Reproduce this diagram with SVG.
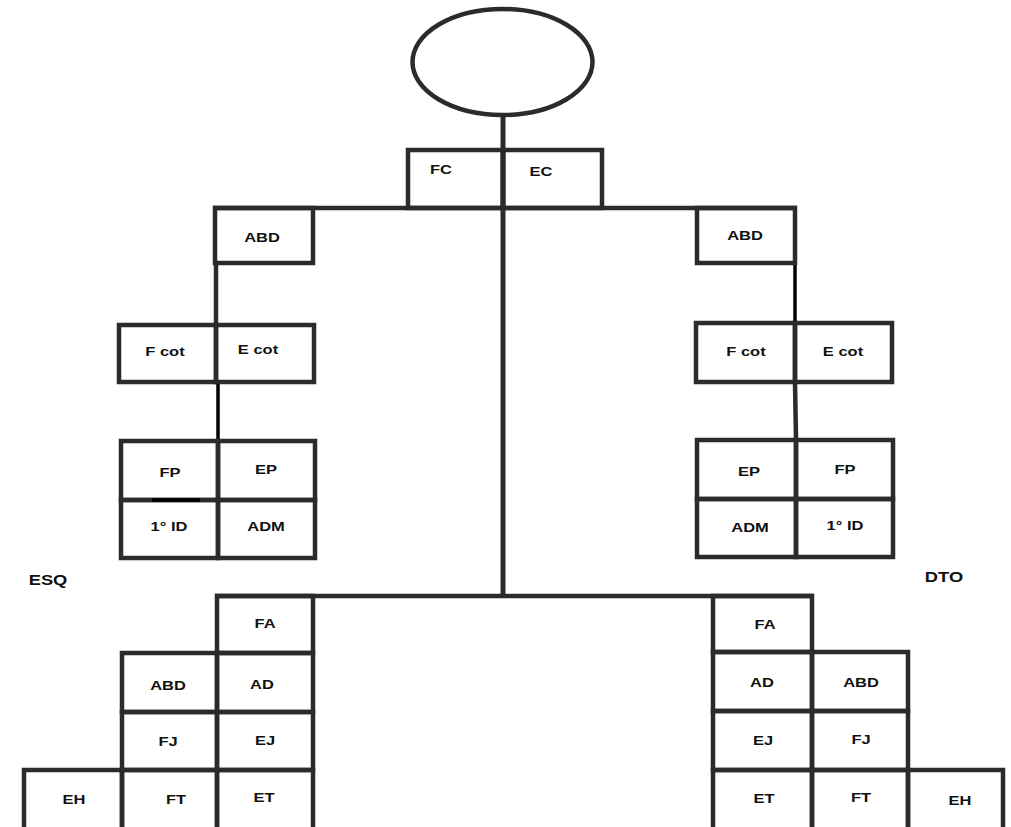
<svg xmlns="http://www.w3.org/2000/svg" width="1011" height="827" viewBox="0 0 1011 827">
<style>
.b{fill:none;stroke:#2b2b2b;stroke-width:4.5;stroke-linejoin:miter}
.c{fill:none;stroke:#2b2b2b;stroke-width:5}
.k{fill:none;stroke:#000;stroke-width:3.5}
.t{font-family:"Liberation Sans",Arial,sans-serif;font-weight:bold;font-size:13px;fill:#111;text-anchor:middle}
.s{font-size:15px}
</style>
<rect width="1011" height="827" fill="#fff"/>
<g id="connectors">
<line class="c" x1="503" y1="114" x2="503" y2="597"/>
<line class="b" x1="213" y1="208" x2="797" y2="208"/>
<line class="b" x1="216" y1="263" x2="216" y2="325"/>
<line class="k" x1="218" y1="382" x2="218" y2="441"/>
<line class="k" x1="207" y1="441" x2="229" y2="441"/>
<line class="k" x1="795" y1="263" x2="795" y2="323"/>
<line class="b" x1="795" y1="382" x2="796" y2="440"/>
<line class="b" x1="215" y1="596" x2="814" y2="596"/>
</g>
<g id="root"><ellipse cx="502.5" cy="62" rx="90" ry="53" fill="none" stroke="#2b2b2b" stroke-width="4.5"/></g>
<g id="FC"><rect class="b" x="408" y="150" width="95" height="58"/><text class="t" transform="translate(441,174) scale(1.27,1)">FC</text></g>
<g id="EC"><rect class="b" x="503" y="150" width="99" height="58"/><text class="t" transform="translate(541,176) scale(1.27,1)">EC</text></g>
<g id="ABD_L"><rect class="b" x="215" y="208" width="98" height="55"/><text class="t" transform="translate(262,242) scale(1.27,1)">ABD</text></g>
<g id="ABD_R"><rect class="b" x="697" y="208" width="98" height="55"/><text class="t" transform="translate(745,240) scale(1.27,1)">ABD</text></g>
<g id="Fcot_L"><rect class="b" x="119" y="325" width="97" height="57"/><text class="t" transform="translate(165,356) scale(1.27,1)">F cot</text></g>
<g id="Ecot_L"><rect class="b" x="216" y="325" width="98" height="57"/><text class="t" transform="translate(258,354) scale(1.27,1)">E cot</text></g>
<g id="Fcot_R"><rect class="b" x="696" y="323" width="99" height="59"/><text class="t" transform="translate(746,356) scale(1.27,1)">F cot</text></g>
<g id="Ecot_R"><rect class="b" x="795" y="323" width="97" height="59"/><text class="t" transform="translate(843,356) scale(1.27,1)">E cot</text></g>
<g id="FP_L"><rect class="b" x="121" y="441" width="97" height="59"/><text class="t" transform="translate(170,477) scale(1.27,1)">FP</text></g>
<g id="EP_L"><rect class="b" x="218" y="441" width="97" height="59"/><text class="t" transform="translate(266,474) scale(1.27,1)">EP</text></g>
<g id="ID_L"><rect class="b" x="121" y="500" width="97" height="58"/><text class="t" transform="translate(169,531) scale(1.27,1)">1° ID</text></g>
<g id="ADM_L"><rect class="b" x="218" y="500" width="97" height="58"/><text class="t" transform="translate(266,531) scale(1.27,1)">ADM</text></g>
<line class="k" x1="152" y1="500" x2="200" y2="500"/>
<g id="EP_R"><rect class="b" x="697" y="440" width="99" height="59"/><text class="t" transform="translate(749,476) scale(1.27,1)">EP</text></g>
<g id="FP_R"><rect class="b" x="796" y="440" width="97" height="59"/><text class="t" transform="translate(845,474) scale(1.27,1)">FP</text></g>
<g id="ADM_R"><rect class="b" x="697" y="499" width="99" height="58"/><text class="t" transform="translate(750,532) scale(1.27,1)">ADM</text></g>
<g id="ID_R"><rect class="b" x="796" y="499" width="97" height="58"/><text class="t" transform="translate(845,530) scale(1.27,1)">1° ID</text></g>
<text class="t s" transform="translate(48,585) scale(1.22,1)">ESQ</text>
<text class="t s" transform="translate(944,582) scale(1.22,1)">DTO</text>
<g id="FA_L"><rect class="b" x="217" y="596" width="96" height="57"/><text class="t" transform="translate(265,628) scale(1.27,1)">FA</text></g>
<g id="ABD_L2"><rect class="b" x="122" y="653" width="95" height="59"/><text class="t" transform="translate(168,690) scale(1.27,1)">ABD</text></g>
<g id="AD_L"><rect class="b" x="217" y="653" width="96" height="59"/><text class="t" transform="translate(262,689) scale(1.27,1)">AD</text></g>
<g id="FJ_L"><rect class="b" x="122" y="712" width="95" height="58"/><text class="t" transform="translate(168,746) scale(1.27,1)">FJ</text></g>
<g id="EJ_L"><rect class="b" x="217" y="712" width="96" height="58"/><text class="t" transform="translate(265,745) scale(1.27,1)">EJ</text></g>
<g id="EH_L"><rect class="b" x="24" y="770" width="98" height="70"/><text class="t" transform="translate(74,804) scale(1.27,1)">EH</text></g>
<g id="FT_L"><rect class="b" x="122" y="770" width="95" height="70"/><text class="t" transform="translate(176,804) scale(1.27,1)">FT</text></g>
<g id="ET_L"><rect class="b" x="217" y="770" width="96" height="70"/><text class="t" transform="translate(264,802) scale(1.27,1)">ET</text></g>
<g id="FA_R"><rect class="b" x="713" y="596" width="99" height="56"/><text class="t" transform="translate(765,629) scale(1.27,1)">FA</text></g>
<g id="AD_R"><rect class="b" x="713" y="652" width="99" height="59"/><text class="t" transform="translate(762,687) scale(1.27,1)">AD</text></g>
<g id="ABD_R2"><rect class="b" x="812" y="652" width="96" height="59"/><text class="t" transform="translate(861,687) scale(1.27,1)">ABD</text></g>
<g id="EJ_R"><rect class="b" x="713" y="711" width="99" height="59"/><text class="t" transform="translate(763,745) scale(1.27,1)">EJ</text></g>
<g id="FJ_R"><rect class="b" x="812" y="711" width="96" height="59"/><text class="t" transform="translate(861,744) scale(1.27,1)">FJ</text></g>
<g id="ET_R"><rect class="b" x="713" y="770" width="99" height="70"/><text class="t" transform="translate(764,803) scale(1.27,1)">ET</text></g>
<g id="FT_R"><rect class="b" x="812" y="770" width="96" height="70"/><text class="t" transform="translate(861,802) scale(1.27,1)">FT</text></g>
<g id="EH_R"><rect class="b" x="908" y="770" width="95" height="70"/><text class="t" transform="translate(960,805) scale(1.27,1)">EH</text></g>
</svg>
